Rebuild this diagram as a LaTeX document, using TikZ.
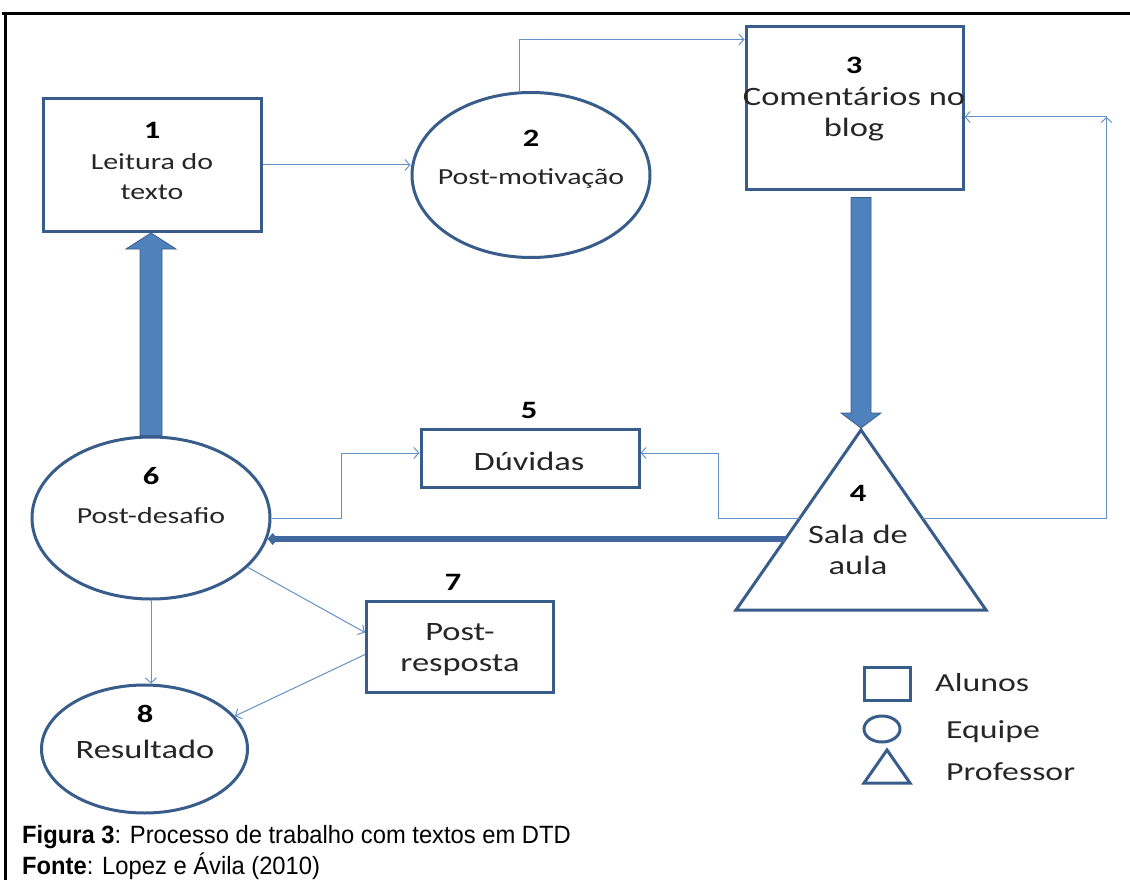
\documentclass[tikz,border=0pt]{standalone}
\usepackage{fontspec}
\setmainfont{Carlito}
\newfontfamily\diagfont[FakeStretch=1.3]{Carlito}
\newfontfamily\capfont[FakeStretch=0.95]{Liberation Sans}
\usetikzlibrary{arrows.meta,shapes.geometric,calc}
\definecolor{outl}{RGB}{56,93,138}
\definecolor{fillb}{RGB}{79,129,189}
\definecolor{connb}{RGB}{100,145,200}
\definecolor{thickl}{RGB}{65,105,160}
\definecolor{bodytxt}{RGB}{38,38,38}
\tikzset{
  shapebox/.style={draw=outl, line width=3pt, fill=white, rectangle, inner sep=0pt},
  shapeell/.style={draw=outl, line width=3pt, fill=white, ellipse, inner sep=0pt},
  txt/.style={font=\diagfont\fontsize{23}{30}\selectfont, align=center, inner sep=0pt, text=bodytxt},
  bigtxt/.style={font=\diagfont\fontsize{26.5}{31}\selectfont, align=center, inner sep=0pt, text=bodytxt},
  numtxt/.style={font=\diagfont\fontsize{25}{30}\selectfont\bfseries, inner sep=0pt, text=black},
  legtxt/.style={font=\diagfont\fontsize{26}{30}\selectfont, inner sep=0pt, text=bodytxt, anchor=west},
  captxt/.style={font=\capfont\fontsize{25}{30}\selectfont, inner sep=0pt, text=black, anchor=west},
  conn/.style={draw=connb, line width=1pt, -{Straight Barb[length=5pt,width=11pt]}},
  fatarrow/.style={fill=fillb, draw=outl, line width=0.8pt, line join=miter},
}
\begin{document}
\begin{tikzpicture}[x=1pt,y=-1pt]
\useasboundingbox (0,0) rectangle (1130,880);
% frame
\draw[black, line width=3pt] (2,14) -- (1130,14);
\draw[black, line width=3pt] (5,12.5) -- (5,880);

% shapes
\node[shapebox, minimum width=218pt, minimum height=133pt] (n1) at (152,165) {};
\node[shapeell, minimum width=238pt, minimum height=165pt] (n2) at (531,175) {};
\node[shapebox, minimum width=217pt, minimum height=162pt] (n3) at (854.5,108) {};
\coordinate (t4a) at (861,430);
\coordinate (t4r) at (986,610);
\coordinate (t4l) at (736,610);
\draw[outl, line width=3pt, fill=white, line join=miter] (t4a) -- (t4r) -- (t4l) -- cycle;
\node[shapebox, minimum width=218pt, minimum height=58pt] (n5) at (530,458) {};
\node[shapeell, minimum width=238pt, minimum height=162pt] (n6) at (151,518) {};
\node[shapebox, minimum width=187pt, minimum height=91pt] (n7) at (460,646.5) {};
\node[shapeell, minimum width=206pt, minimum height=128pt] (n8) at (144.5,749) {};

% texts
\node[numtxt] (k1) at (152,130) {1};
\node[txt] (t1) at (152,177) {Leitura do\\texto};
\node[numtxt] (k2) at (531,138) {2};
\node[txt] (t2) at (531,178) {Post-motivação};
\node[numtxt] (k3) at (854,65) {3};
\node[bigtxt] (t3) at (854,114) {Comentários no\\blog};
\node[numtxt] (k4) at (858,493) {4};
\node[bigtxt] (t4) at (858,550) {Sala de\\aula};
\node[numtxt] (k5) at (529,410) {5};
\node[bigtxt] (t5) at (529,461) {Dúvidas};
\node[numtxt] (k6) at (151,476) {6};
\node[txt] (t6) at (151,516) {Post-desafio};
\node[numtxt] (k7) at (453,582) {7};
\node[bigtxt] (t7) at (460,650) {Post-\\resposta};
\node[numtxt] (k8) at (145,714) {8};
\node[bigtxt] (t8) at (145,749) {Resultado};

% fat arrows
\coordinate (e61) at (n6.north |- n1.south);
\fill[fatarrow] ($(n6.north)+(-11,0)$) -- ($(e61)+(-11,16)$) -- ($(e61)+(-25,16)$) -- (e61)
  -- ($(e61)+(25,16)$) -- ($(e61)+(11,16)$) -- ($(n6.north)+(11,0)$) -- cycle;
\coordinate (s34) at ($(t4a |- n3.south)+(0,7)$);
\coordinate (e34) at ($(t4a)+(0,-2)$);
\fill[fatarrow] ($(s34)+(-10,0)$) -- ($(e34)+(-10,-15)$) -- ($(e34)+(-20,-15)$) -- (e34)
  -- ($(e34)+(20,-15)$) -- ($(e34)+(10,-15)$) -- ($(s34)+(10,0)$) -- cycle;

% thick line 4 -> 6
\coordinate (p46) at ($(t4a)!0.6056!(t4l)$);
\draw[thickl, line width=6pt, -{Diamond[length=10pt,width=12pt,line width=0pt]}] (p46) -- (p46 -| n6.-10);

% thin connectors
\draw[conn] (n1.east) -- (n1.east -| n2.west);
\draw[conn] (n2.98) |- ($(n3.north west)+(0,14)$);
\coordinate (c43) at ($(n3.east)+(142,9)$);
\coordinate (p4r) at ($(t4a)!0.489!(t4r)$);
\coordinate (p4l) at ($(t4a)!0.489!(t4l)$);
\draw[conn] (p4r) -| (c43);
\draw[conn] (c43) -- (c43 -| n3.east);
\coordinate (c45) at ($(n5.east)+(78,-5)$);
\draw[conn] (p4l) -| (c45) -- (c45 -| n5.east);
\coordinate (c65) at ($(n5.west)+(-78,-5)$);
\draw[conn] (n6.east) -| (c65) -- (c65 -| n5.west);
\draw[conn] (n6.-27) -- ($(n7.west)+(0,-14)$);
\draw[conn] (n6.south) -- (n6.south |- n8.north);
\draw[conn] ($(n7.west)+(0,8)$) -- (n8.20);

% legend
\node[draw=outl, line width=3pt, minimum width=46pt, minimum height=33pt, inner sep=0pt] (lg1) at (887,683.5) {};
\node[draw=outl, line width=3pt, ellipse, minimum width=36pt, minimum height=26pt, inner sep=0pt] (lg2) at (882,729) {};
\coordinate (lg3a) at (887,750);
\coordinate (lg3r) at (910,783);
\coordinate (lg3l) at (864,783);
\draw[outl, line width=3pt, line join=miter] (lg3a) -- (lg3r) -- (lg3l) -- cycle;
\node[legtxt] (lt1) at (935,683) {Alunos};
\node[legtxt] (lt2) at (946,732) {Equipe};
\node[legtxt] (lt3) at (946,772) {Professor};

% caption
\node[captxt] (cap1) at (22,837) {\textbf{Figura 3}: Processo de trabalho com textos em DTD};
\node[captxt] (cap2) at (22,866) {\textbf{Fonte}: Lopez e Ávila (2010)};
\end{tikzpicture}
\end{document}
